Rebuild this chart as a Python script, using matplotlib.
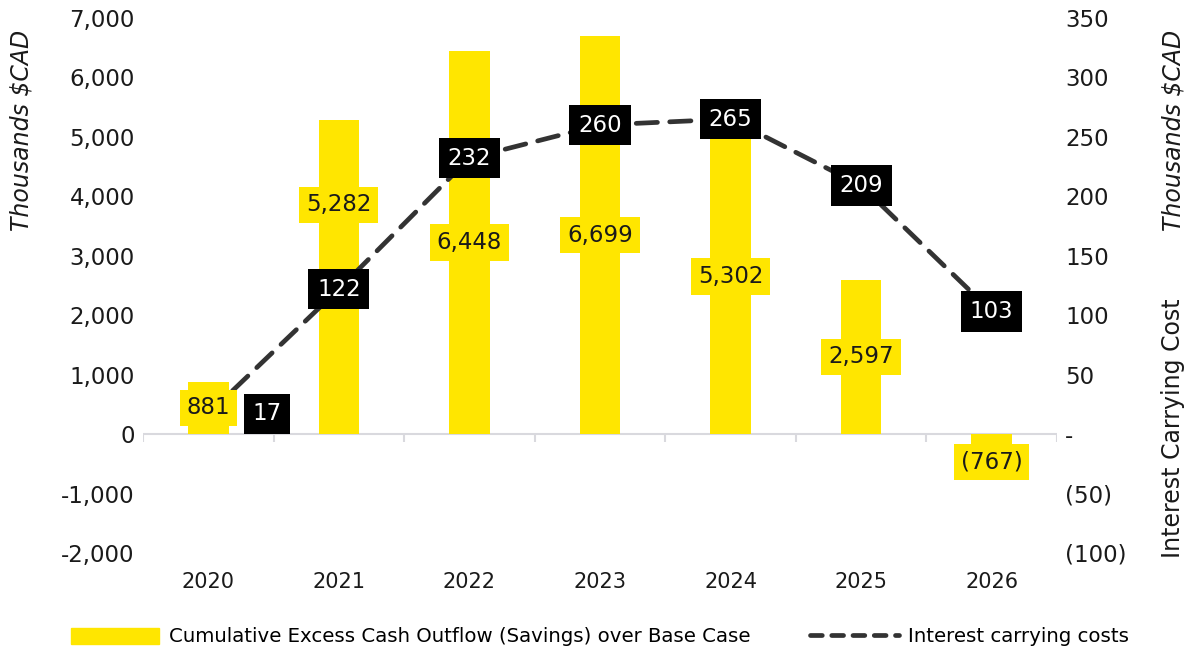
import matplotlib.pyplot as plt
import matplotlib.ticker as mticker
from matplotlib.patches import Patch
from matplotlib.lines import Line2D

years = ['2020', '2021', '2022', '2023', '2024', '2025', '2026']
cash_outflow = [881, 5282, 6448, 6699, 5302, 2597, -767]
interest_cost = [17, 122, 232, 260, 265, 209, 103]

yellow = '#FFE600'
dark = '#333333'

plt.rcParams['font.family'] = 'DejaVu Sans'

fig = plt.figure(figsize=(11.91, 6.54), dpi=100)
ax = fig.add_axes([143/1191, 1-553/654, (1057-143)/1191, (553-18)/654])
ax2 = ax.twinx()

x = list(range(len(years)))
ax.bar(x, cash_outflow, width=0.31, color=yellow, zorder=2)
ax.set_xlim(-0.5, 6.5)
ax.set_ylim(-2000, 7000)
ax.set_yticks(range(-2000, 7001, 1000))
ax.yaxis.set_major_formatter(mticker.FuncFormatter(lambda v, p: f'{v:,.0f}'))

ax2.set_ylim(-100, 350)
ax2.set_yticks(range(-100, 351, 50))
def paren(v, p):
    if v == 0:
        return '-'
    if v < 0:
        return f'({-v:,.0f})'
    return f'{v:,.0f}'
ax2.yaxis.set_major_formatter(mticker.FuncFormatter(paren))
ax2.plot(x, interest_cost, color=dark, lw=3.4, linestyle=(0, (4.5, 2.6)),
         dash_capstyle='round', zorder=3)

for a in (ax, ax2):
    for s in a.spines.values():
        s.set_visible(False)
    a.tick_params(axis='y', length=0, labelsize=16.5, colors='#1a1a1a', pad=6)

ax.set_xticks(x)
ax.set_xticklabels(years)
ax.tick_params(axis='x', length=0, labelsize=15, colors='#1a1a1a', pad=14)

# zero line with category separators
ax.axhline(0, color='#d9d9de', lw=1.5, zorder=1)
ax.vlines([i - 0.5 for i in range(len(years) + 1)], -140, 0, color='#d9d9de', lw=1.5, zorder=1)

# bar labels (drawn on ax2 so they sit above the line, like the original)
bar_pos = [v / 2 for v in cash_outflow]
bar_pos[1] = cash_outflow[1] * 0.73
bar_pos[6] = cash_outflow[6] * 0.61
for i, (v, yp) in enumerate(zip(cash_outflow, bar_pos)):
    txt = f'({-v:,})' if v < 0 else f'{v:,}'
    ax2.text(i, yp, txt, ha='center', va='center', fontsize=16.5, color='#1a1a1a', zorder=4,
             transform=ax.transData,
             bbox=dict(boxstyle='square,pad=0.3', fc=yellow, ec='none'))

# line labels
for i, v in enumerate(interest_cost):
    xo = i + 0.45 if i == 0 else i
    ax2.text(xo, v, str(v), ha='center', va='center', fontsize=16.5, color='white', zorder=5,
             bbox=dict(boxstyle='square,pad=0.38', fc='black', ec='none'))

fig.text(22/1191, 1-130/654, 'Thousands $CAD', rotation=90, style='italic', fontsize=17,
         ha='center', va='center', color='#1a1a1a')
fig.text(1173/1191, 1-130/654, 'Thousands $CAD', rotation=90, style='italic', fontsize=17,
         ha='center', va='center', color='#1a1a1a')
fig.text(1173/1191, 1-428/654, 'Interest Carrying Cost', rotation=90, fontsize=17,
         ha='center', va='center', color='#1a1a1a')

handles = [Patch(color=yellow),
           Line2D([0], [0], color=dark, lw=3.4, linestyle=(0, (2.5, 2)), dash_capstyle='round')]
labels = ['Cumulative Excess Cash Outflow (Savings) over Base Case', 'Interest carrying costs']
fig.legend(handles, labels, loc='center', bbox_to_anchor=(600/1191, 1-637/654), ncol=2,
           frameon=False, fontsize=14.2, handlelength=4.5, handleheight=0.9,
           columnspacing=3, handletextpad=0.5)

fig.savefig('out.png', dpi=100)
